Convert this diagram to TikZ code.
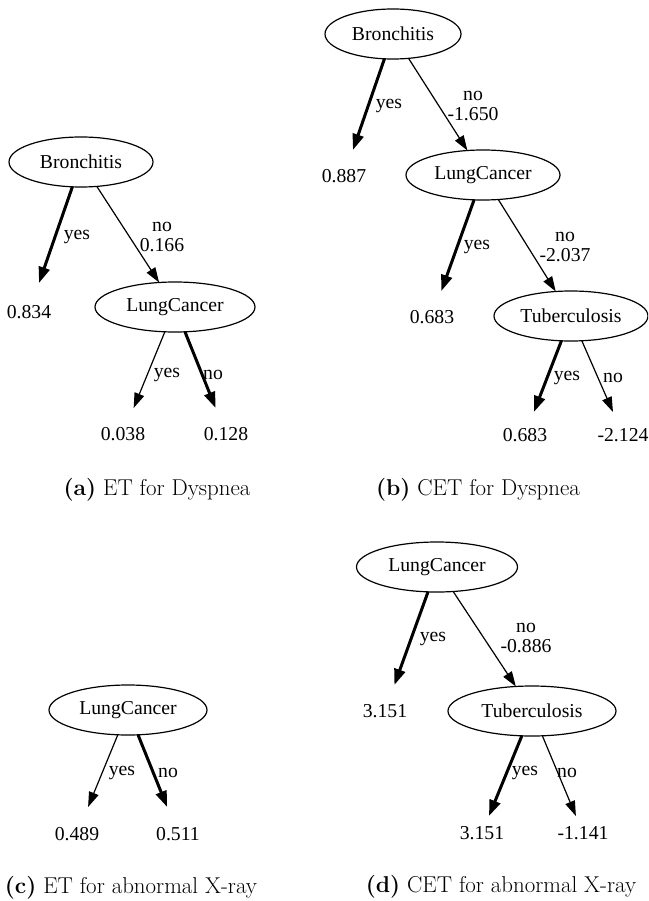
\documentclass[tikz,border=0pt]{standalone}
\usepackage{fontspec}
\newfontfamily\gvfont{Liberation Serif}
\usetikzlibrary{arrows.meta,shapes.geometric}

\begin{document}
\begin{tikzpicture}[x=1pt,y=-1pt,
  every node/.style={inner sep=0pt,outer sep=0pt},
  gv/.style={font=\gvfont\fontsize{19.7}{20.5}\selectfont},
  var/.style={gv,draw,ellipse,line width=1.2pt,minimum width=#1,minimum height=50pt},
  var/.default=152pt,
  leaf/.style={gv,minimum height=#1},
  leaf/.default=52pt,
  lbl/.style={gv,align=center},
  subcap/.style={font=\fontsize{22.9}{27.5}\selectfont},
  heavy/.style={line width=3pt,-{Triangle[length=16pt,width=11pt]}},
  light/.style={line width=1.2pt,-{Triangle[length=15pt,width=10pt]}}
]
\useasboundingbox (0,0) rectangle (648,901);
\clip (0,0) rectangle (648,901);

% ---------- (a) ET for Dyspnea ----------
\node[var=144pt] (aB) at (81,162) {Bronchitis};
\node[leaf=58pt] (aB1) at (29,312) {0.834};
\node[var=160pt] (aL) at (175,307) {LungCancer};
\node[leaf] (aL1) at (123,434) {0.038};
\node[leaf] (aL2) at (226,434) {0.128};
\draw[heavy] (aB) -- (aB1);
\draw[light] (aB) -- (aL);
\draw[light] (aL) -- (aL1);
\draw[heavy] (aL) -- (aL2);
\node[lbl] (aBy) at (77,237) {yes};
\node[lbl] (aBn) at (162,237) {no\\0.166};
\node[lbl] (aLy) at (167,375) {yes};
\node[lbl] (aLn) at (213,375) {no};
\node[subcap] (capa) at (157,490) {\textbf{(a)} ET for Dyspnea};

% ---------- (b) CET for Dyspnea ----------
\node[var=136pt] (bB) at (393,34) {Bronchitis};
\node[leaf] (bB1) at (344,176) {0.887};
\node[var=154pt] (bL) at (483,175) {LungCancer};
\node[leaf] (bL1) at (432,317) {0.683};
\node[var=154pt] (bT) at (571,316) {Tuberculosis};
\node[leaf=46pt] (bT1) at (525,435) {0.683};
\node[leaf=46pt] (bT2) at (623,435) {-2.124};
\draw[heavy] (bB) -- (bB1);
\draw[light] (bB) -- (bL);
\draw[heavy] (bL) -- (bL1);
\draw[light] (bL) -- (bT);
\draw[heavy] (bT) -- (bT1);
\draw[light] (bT) -- (bT2);
\node[lbl] (bBy) at (389,106) {yes};
\node[lbl] (bBn) at (473,106) {no\\-1.650};
\node[lbl] (bLy) at (477,247) {yes};
\node[lbl] (bLn) at (565,247) {no\\-2.037};
\node[lbl] (bTy) at (567,378) {yes};
\node[lbl] (bTn) at (613,378) {no};
\node[subcap] (capb) at (478,490) {\textbf{(b)} CET for Dyspnea};

% ---------- (c) ET for abnormal X-ray ----------
\node[var=158pt] (cL) at (128,710) {LungCancer};
\node[leaf=54pt] (cL1) at (77,834) {0.489};
\node[leaf=54pt] (cL2) at (178,834) {0.511};
\draw[light] (cL) -- (cL1);
\draw[heavy] (cL) -- (cL2);
\node[lbl] (cLy) at (122,773) {yes};
\node[lbl] (cLn) at (168,773) {no};
\node[subcap] (capc) at (131,888) {\textbf{(c)} ET for abnormal X-ray};

% ---------- (d) CET for abnormal X-ray ----------
\node[var=161pt] (dL) at (437,567) {LungCancer};
\node[leaf] (dL1) at (385,711) {3.151};
\node[var=168pt] (dT) at (532,711) {Tuberculosis};
\node[leaf=34pt] (dT1) at (482,833) {3.151};
\node[leaf=34pt] (dT2) at (583,833) {-1.141};
\draw[heavy] (dL) -- (dL1);
\draw[light] (dL) -- (dT);
\draw[heavy] (dT) -- (dT1);
\draw[light] (dT) -- (dT2);
\node[lbl] (dLy) at (433,639) {yes};
\node[lbl] (dLn) at (526,638) {no\\-0.886};
\node[lbl] (dTy) at (525,773) {yes};
\node[lbl] (dTn) at (567,773) {no};
\node[subcap] (capd) at (501,887) {\textbf{(d)} CET for abnormal X-ray};
\end{tikzpicture}
\end{document}
